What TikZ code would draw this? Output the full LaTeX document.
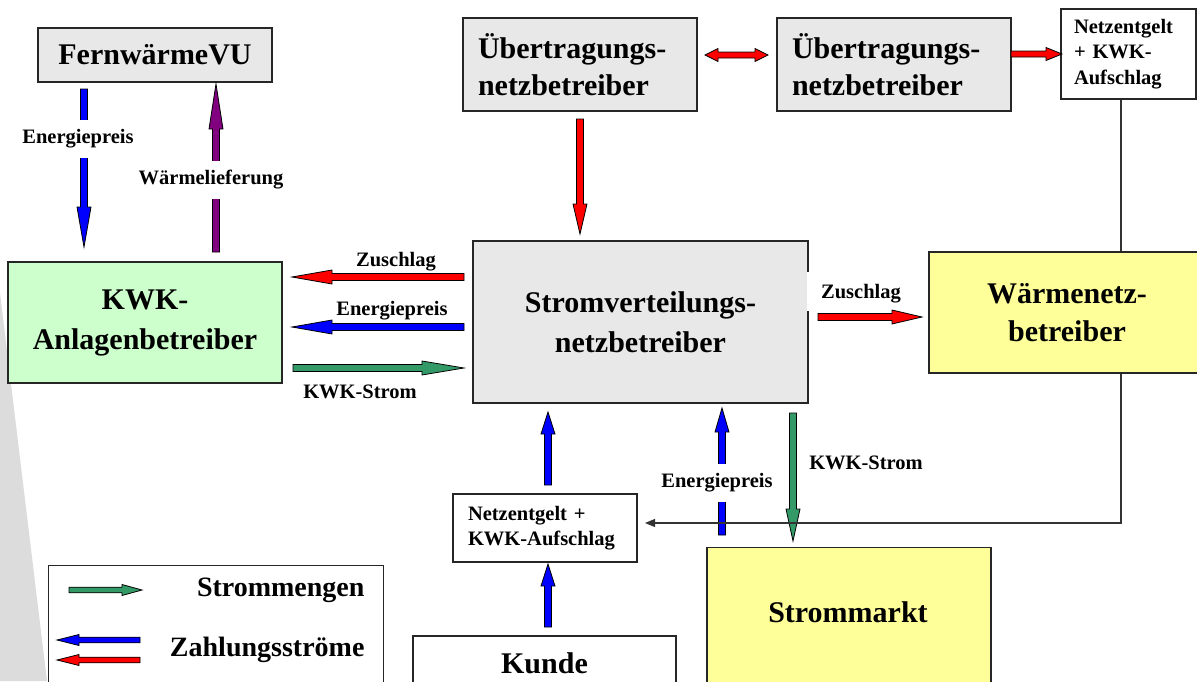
\documentclass[tikz,border=0pt]{standalone}
\usepackage{fontspec}
\setmainfont{Liberation Serif}
\usetikzlibrary{calc,arrows.meta}
\definecolor{boxgray}{HTML}{E8E8E8}
\definecolor{kwkgreen}{HTML}{CCFFCC}
\definecolor{lyellow}{HTML}{FFFF99}
\definecolor{agreen}{HTML}{339966}
\definecolor{apurple}{HTML}{800080}
\definecolor{wedgegray}{HTML}{DCDCDC}
\newcommand\shw{3.5pt}
\newcommand\hhw{7pt}
% #1 fill colour, #2 head length, #3 start, #4 tip
\newcommand\blockarr[4]{%
  \path ($(#4)!#2!(#3)$) coordinate (bahead);
  \draw[arrowedge, fill=#1]
    ($(#3)!\shw!90:(#4)$) -- ($(bahead)!\shw!90:(#4)$) -- ($(bahead)!\hhw!90:(#4)$) -- (#4)
    -- ($(bahead)!\hhw!-90:(#4)$) -- ($(bahead)!\shw!-90:(#4)$) -- ($(#3)!\shw!-90:(#4)$) -- cycle;}
% double-headed: #1 fill, #2 head length, #3 end A, #4 end B
\newcommand\blockdarr[4]{%
  \path ($(#3)!#2!(#4)$) coordinate (dha);
  \path ($(#4)!#2!(#3)$) coordinate (dhb);
  \draw[arrowedge, fill=#1]
    (#3) -- ($(dha)!\hhw!90:(#4)$) -- ($(dha)!\shw!90:(#4)$) -- ($(dhb)!\shw!90:(#4)$)
    -- ($(dhb)!\hhw!90:(#4)$) -- (#4) -- ($(dhb)!\hhw!-90:(#4)$) -- ($(dhb)!\shw!-90:(#4)$)
    -- ($(dha)!\shw!-90:(#4)$) -- ($(dha)!\hhw!-90:(#4)$) -- cycle;}
\tikzset{
  box/.style={draw=black!85, line width=1.2pt, inner sep=0pt},
  bigtxt/.style={font=\fontsize{30}{38}\selectfont\bfseries},
  smalltxt/.style={font=\fontsize{20.5}{25.5}\selectfont\bfseries},
  legtxt/.style={font=\fontsize{28}{34}\selectfont\bfseries},
  gaplabel/.style={smalltxt, fill=white, inner xsep=2pt, inner ysep=10pt},
  arrowedge/.style={draw=black, line width=0.8pt, line join=miter},
  thinline/.style={draw=black!80, line width=1.1pt},
}
\begin{document}
\begin{tikzpicture}[x=1pt, y=-1pt]
\useasboundingbox (0,0) rectangle (1197,681);
% background wedge
\fill[wedgegray] (0,293) -- (47,681) -- (0,681) -- cycle;

% boxes
\node[box, fill=boxgray, bigtxt, minimum width=234pt, minimum height=54pt] (fvu) at (155,55) {FernwärmeVU};
\node[box, fill=boxgray, font=\fontsize{30}{37}\selectfont\bfseries, minimum width=234pt, minimum height=93pt, text width=204pt, align=left] (ub1) at (580,64.5) {Übertragungs-\\netzbetreiber};
\node[box, fill=boxgray, font=\fontsize{30}{37}\selectfont\bfseries, minimum width=234pt, minimum height=93pt, text width=204pt, align=left] (ub2) at (894,64.5) {Übertragungs-\\netzbetreiber};
\node[box, fill=white, smalltxt, minimum width=135pt, minimum height=90pt, text width=109pt, align=left] (nz1) at (1128.5,54) {Netzentgelt\\+ KWK-\\Aufschlag};
\node[box, fill=kwkgreen, font=\fontsize{30}{40}\selectfont\bfseries, minimum width=274pt, minimum height=121pt, align=center] (kwk) at (145,322.5) {KWK-\\Anlagenbetreiber};
\node[box, fill=boxgray, font=\fontsize{30}{40}\selectfont\bfseries, minimum width=335pt, minimum height=162pt, align=center] (svn) at (640.5,322) {Stromverteilungs-\\netzbetreiber};
\draw[white, line width=3pt] ($(svn.north east)+(0,32)$) -- ($(svn.north east)+(0,71)$);
\node[box, fill=white, smalltxt, minimum width=184pt, minimum height=68pt, text width=154pt, align=left] (nzb) at (545,528) {Netzentgelt +\\KWK-Aufschlag};
\node[box, fill=white, bigtxt, minimum width=263pt, minimum height=54pt] (kunde) at (544.5,663) {Kunde};
\node[box, fill=lyellow, minimum width=284pt, minimum height=160pt, anchor=north] (smk) at (849,547) {};
\node[bigtxt] (smkt) at (848,612) {Strommarkt};

% legend
\node[box, fill=white, minimum width=335pt, minimum height=160pt, anchor=north west] (leg) at (48,565) {};
\node[legtxt, anchor=east] (legs) at (368,590) {Strommengen};
\node[legtxt, anchor=east] (legz) at (368,650) {Zahlungsströme};

% coordinates for arrows
\coordinate (a1s) at (84,89);   \coordinate (a1e) at (84,247);
\coordinate (a2s) at (216,252); \coordinate (a2e) at (216,84);
\coordinate (a3s) at (580,119); \coordinate (a3e) at (580,234);
\coordinate (a4s) at (705,55);  \coordinate (a4e) at (768,55);
\coordinate (a5s) at (1011,54); \coordinate (a5e) at (1062,54);
\coordinate (a6s) at (464,277); \coordinate (a6e) at (292,277);
\coordinate (a7s) at (464,327); \coordinate (a7e) at (292,327);
\coordinate (a8s) at (293,368); \coordinate (a8e) at (464,368);
\coordinate (a9s) at (818,317); \coordinate (a9e) at (922,317);
\coordinate (b1s) at (548,485); \coordinate (b1e) at (548,412);
\coordinate (b2s) at (722,535); \coordinate (b2e) at (722,408);
\coordinate (b3s) at (793,413); \coordinate (b3e) at (793,541);
\coordinate (b4s) at (548,627); \coordinate (b4e) at (548,564);

\blockarr{blue}{40pt}{a1s}{a1e}
\blockarr{apurple}{45pt}{a2s}{a2e}
\blockarr{red}{30pt}{a3s}{a3e}
\blockarr{red}{40pt}{a6s}{a6e}
\blockarr{blue}{40pt}{a7s}{a7e}
\blockarr{agreen}{42pt}{a8s}{a8e}
\blockarr{red}{30pt}{a9s}{a9e}
\blockarr{blue}{22pt}{b1s}{b1e}
\blockarr{blue}{24pt}{b2s}{b2e}
\blockarr{agreen}{32pt}{b3s}{b3e}
\blockarr{blue}{22pt}{b4s}{b4e}
\renewcommand\shw{3pt}\renewcommand\hhw{6.5pt}
\blockdarr{red}{13pt}{a4s}{a4e}
\blockarr{red}{16pt}{a5s}{a5e}

% labels
\node[gaplabel] (l1) at (78,139) {Energiepreis};
\node[gaplabel] (l2) at (211,180) {Wärmelieferung};
\node[smalltxt] (l3) at (396,262) {Zuschlag};
\node[smalltxt] (l4) at (392,311) {Energiepreis};
\node[smalltxt] (l5) at (360,392) {KWK-Strom};
\node[smalltxt] (l6) at (861,294) {Zuschlag};
\node[gaplabel] (l7) at (717,483) {Energiepreis};
\node[smalltxt] (l8) at (866,463) {KWK-Strom};

% legend arrows
\coordinate (g1s) at (69,590);  \coordinate (g1e) at (142,590);
\coordinate (g2s) at (140,640); \coordinate (g2e) at (57,640);
\coordinate (g3s) at (140,660); \coordinate (g3e) at (57,660);
\renewcommand\shw{2.8pt}\renewcommand\hhw{5.5pt}
\blockarr{agreen}{20pt}{g1s}{g1e}
\blockarr{blue}{22pt}{g2s}{g2e}
\blockarr{red}{22pt}{g3s}{g3e}

% thin connector
\coordinate (tc) at (1121,523);
\coordinate (tend) at (645,523);
\draw[thinline, -{Triangle[length=10pt,width=8pt]}] (nz1.south -| tc) -- (tc) -- (tend);

% Waermenetzbetreiber on top of the line
\node[box, fill=lyellow, font=\fontsize{30}{38}\selectfont\bfseries, minimum width=276pt, minimum height=121pt, align=center] (wnb) at (1067,312.5) {Wärmenetz-\\betreiber};
\end{tikzpicture}
\end{document}
